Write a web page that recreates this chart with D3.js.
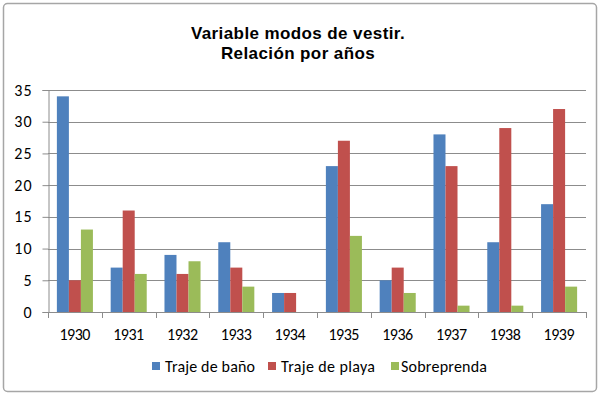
<!DOCTYPE html>
<html>
<head>
<meta charset="utf-8">
<script src="https://cdn.jsdelivr.net/npm/d3@7"></script>
<style>
  body { margin: 0; background: #fff; }
  text { font-family: Calibri, Carlito, Lato, "Liberation Sans", Arial, sans-serif; }
  text.title { font-family: "Liberation Sans", Arial, sans-serif; font-size: 17px; font-weight: bold; letter-spacing: 0.4px; }
</style>
</head>
<body>
<div id="container"></div>
<script>
// data
const years = ["1930", "1931", "1932", "1933", "1934", "1935", "1936", "1937", "1938", "1939"];
const seriesNames = ["Traje de baño", "Traje de playa", "Sobreprenda"];
const trajeBano = [34, 7, 9, 11, 3, 23, 5, 28, 11, 17];
const trajePlaya = [5, 16, 6, 7, 3, 27, 7, 23, 29, 32];
const sobreprenda = [13, 6, 8, 4, 0, 12, 3, 1, 1, 4];
const yTicks = [0, 5, 10, 15, 20, 25, 30, 35];
const colors = ["#4F81BD", "#C0504D", "#9BBB59"];

const seriesValues = [trajeBano, trajePlaya, sobreprenda];
const rows = years.map((y, i) => ({
  year: y,
  values: seriesNames.map((s, j) => ({ key: s, value: seriesValues[j][i] }))
}));

const width = 600, height = 395;
const margin = { top: 90, right: 14, bottom: 83, left: 48 };

const svg = d3.select("#container")
  .append("svg")
  .attr("width", width)
  .attr("height", height);

// outer frame
svg.append("rect")
  .attr("x", 3.5).attr("y", 3.5)
  .attr("width", width - 7).attr("height", height - 7)
  .attr("rx", 4)
  .attr("fill", "#fff")
  .attr("stroke", "#a6a6a6")
  .attr("stroke-width", 1.5);

// title
svg.append("text").attr("class", "title")
  .attr("x", 298).attr("y", 39).attr("text-anchor", "middle")
  .text("Variable modos de vestir.");
svg.append("text").attr("class", "title")
  .attr("x", 298).attr("y", 59).attr("text-anchor", "middle")
  .text("Relación por años");

const x0 = d3.scaleBand()
  .domain(years)
  .range([margin.left, width - margin.right])
  .paddingInner(0.33)
  .paddingOuter(0.165);

const x1 = d3.scaleBand()
  .domain(seriesNames)
  .range([0, x0.bandwidth()]);

const y = d3.scaleLinear()
  .domain([0, 35])
  .range([height - margin.bottom, margin.top]);

// grid
svg.append("g")
  .selectAll("line")
  .data(yTicks.filter(d => d > 0))
  .join("line")
  .attr("x1", margin.left)
  .attr("x2", width - margin.right)
  .attr("y1", d => Math.round(y(d)) + 0.5)
  .attr("y2", d => Math.round(y(d)) + 0.5)
  .attr("stroke", "#8c8c8c")
  .attr("stroke-width", 1);

// bars
svg.append("g")
  .selectAll("g")
  .data(rows)
  .join("g")
  .attr("transform", d => `translate(${x0(d.year)},0)`)
  .selectAll("rect")
  .data(d => d.values)
  .join("rect")
  .attr("x", d => x1(d.key))
  .attr("width", x1.bandwidth())
  .attr("y", d => y(d.value))
  .attr("height", d => y(0) - y(d.value))
  .attr("fill", (d, i) => colors[i]);

// y axis
const yAxis = svg.append("g")
  .attr("transform", `translate(${margin.left + 0.5},0)`)
  .call(d3.axisLeft(y).tickValues(yTicks).tickSize(6).tickPadding(10));
yAxis.select(".domain").attr("stroke", "#8c8c8c");
yAxis.selectAll(".tick line").attr("stroke", "#8c8c8c");
yAxis.selectAll(".tick text")
  .style("font-size", "16px")
  .style("letter-spacing", "1px")
  .attr("fill", "#000");

// x axis: ticks between categories
const step = x0.step();
const xLeft = margin.left;
const xRight = width - margin.right;
const xAxisG = svg.append("g");
xAxisG.append("line")
  .attr("x1", xLeft).attr("x2", xRight)
  .attr("y1", Math.round(y(0)) + 0.5).attr("y2", Math.round(y(0)) + 0.5)
  .attr("stroke", "#8c8c8c");
xAxisG.selectAll(".xt")
  .data(d3.range(years.length + 1))
  .join("line")
  .attr("class", "xt")
  .attr("x1", i => Math.round(xLeft + i * step) + 0.5)
  .attr("x2", i => Math.round(xLeft + i * step) + 0.5)
  .attr("y1", Math.round(y(0)))
  .attr("y2", Math.round(y(0)) + 6)
  .attr("stroke", "#8c8c8c");
xAxisG.selectAll(".xl")
  .data(years)
  .join("text")
  .attr("class", "xl")
  .attr("x", d => x0(d) + x0.bandwidth() / 2)
  .attr("y", 340)
  .attr("text-anchor", "middle")
  .attr("textLength", 31)
  .attr("lengthAdjust", "spacing")
  .style("font-size", "16px")
  .attr("fill", "#000")
  .text(d => d);

// legend
const legendX = [152, 268, 391];
const legendW = [90, 94, 86];
const legend = svg.append("g")
  .selectAll("g")
  .data(seriesNames)
  .join("g")
  .attr("transform", (d, i) => `translate(${legendX[i]},372)`);
legend.append("rect")
  .attr("x", 0).attr("y", -10)
  .attr("width", 8).attr("height", 8)
  .attr("fill", (d, i) => colors[i]);
legend.append("text")
  .attr("x", (d, i) => i === 2 ? 10 : 13)
  .attr("y", 0)
  .attr("textLength", (d, i) => legendW[i])
  .attr("lengthAdjust", "spacing")
  .style("font-size", "16px")
  .attr("fill", "#000")
  .text(d => d);
</script>
</body>
</html>
